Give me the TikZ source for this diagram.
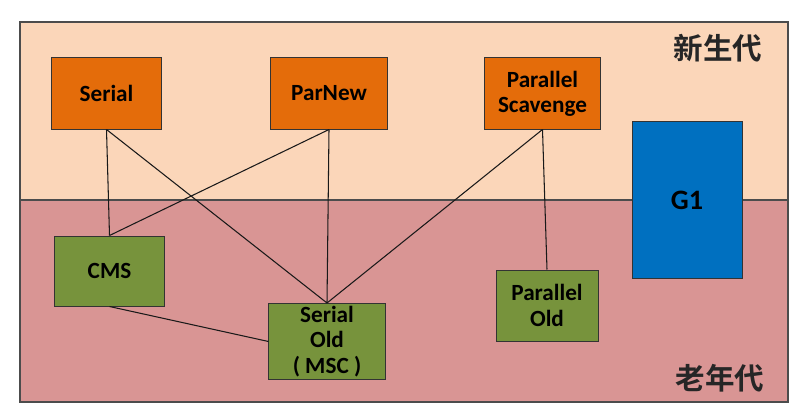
\documentclass[tikz,border=0pt]{standalone}
\usepackage{fontspec}
\setmainfont{Carlito}
\newfontfamily\cjk{Noto Sans CJK SC}[BoldFont={Noto Sans CJK SC Bold}]
\usetikzlibrary{positioning}

\definecolor{younggen}{HTML}{FBD6B9}
\definecolor{oldgen}{HTML}{D99594}
\definecolor{gcorange}{HTML}{E46C0A}
\definecolor{gcgreen}{HTML}{77933C}
\definecolor{gcblue}{HTML}{0070C0}

\begin{document}
\begin{tikzpicture}[x=0.025cm,y=-0.025cm,
    gcbox/.style={draw=black!80, line width=0.7pt, align=center, inner sep=2pt,
        font=\fontsize{16.5}{18}\selectfont\bfseries, text=black},
    young/.style={gcbox, fill=gcorange, minimum height=1.775cm},
    old/.style={gcbox, fill=gcgreen, minimum height=1.775cm},
    link/.style={draw=black!90, line width=0.75pt},
    genlabel/.style={font=\cjk\fontsize{21}{24}\selectfont\bfseries, text=black!85}]
    \useasboundingbox (0,0) rectangle (802,414);
    \fill[white] (0,0) rectangle (802,414);
    \fill[younggen] (20,22) rectangle (788,200);
    \fill[oldgen] (20,200) rectangle (788,402);
    \draw[black!70, line width=0.9pt] (20,200) -- (788,200);
    \draw[black!70, line width=1pt] (20,22) rectangle (788,402);
    \node[genlabel] (newgen) at (718,48) {新生代};
    \node[genlabel] (oldgenlbl) at (720,378) {老年代};
    % young generation collectors
    \node[young, minimum width=2.725cm] (serial) at (106.5,93.5) {Serial};
    \node[young, minimum width=2.9cm] (parnew) at (329,93.5) {ParNew};
    \node[young, minimum width=2.875cm] (pscav) at (542.5,93.5) {Parallel\\Scavenge};
    % old generation collectors
    \node[old, minimum width=2.725cm, minimum height=1.75cm] (cms) at (109.5,271) {CMS};
    \node[old, minimum width=2.9cm] (serialold) at (327,341.5) {Serial\\Old\\( MSC )};
    \node[old, minimum width=2.55cm] (parold) at (547,305.5) {Parallel\\Old};
    % G1 spans both
    \node[gcbox, fill=gcblue, minimum width=2.75cm, minimum height=3.9cm,
        font=\fontsize{20}{22}\selectfont\bfseries] (g1) at (687,200) {G1};
    % combinations
    \draw[link] (serial.south) -- (cms.north);
    \draw[link] (serial.south) -- (serialold.north);
    \draw[link] (parnew.south) -- (cms.north);
    \draw[link] (parnew.south) -- (serialold.north);
    \draw[link] (pscav.south) -- (serialold.north);
    \draw[link] (pscav.south) -- (parold.north);
    \draw[link] (cms.south) -- (serialold.west);
\end{tikzpicture}
\end{document}
